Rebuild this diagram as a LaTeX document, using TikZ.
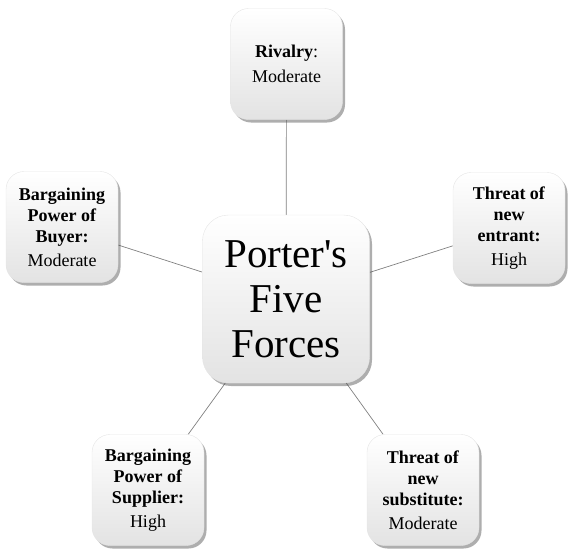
\documentclass[tikz,border=0pt]{standalone}
\usepackage{fontspec}
\setmainfont{LiberationSerif}[Extension=.ttf,UprightFont=*-Regular,BoldFont=*-Bold,ItalicFont=*-Italic,BoldItalicFont=*-BoldItalic]
\usetikzlibrary{shadows,backgrounds}

\begin{document}
\begin{tikzpicture}[x=1pt,y=-1pt]
\tikzset{forcebox/.style={rectangle,rounded corners=18pt,minimum width=112pt,minimum height=111pt,inner sep=2pt,align=center,draw=black!10,top color=white,middle color=white,bottom color=black!11,drop shadow={shadow xshift=2.5pt,shadow yshift=-3pt,fill=black!70,opacity=0.45},font=\fontsize{18}{21}\selectfont}}
\tikzset{link/.style={draw=black!50,line width=0.7pt}}
\useasboundingbox (0,0) rectangle (572,552);
\node (c) at (286,299) [forcebox,rounded corners=26pt,minimum width=167pt,minimum height=168pt,font=\fontsize{41}{45}\selectfont] {Porter\textquotesingle s\\Five\\Forces};
\node (r) at (286.5,64) [forcebox] {\textbf{Rivalry}:\\[4pt]Moderate};
\node (b) at (62,227) [forcebox] {\textbf{Bargaining}\\\textbf{Power of}\\\textbf{Buyer:}\\[3pt]Moderate};
\node (e) at (509,228) [forcebox] {\textbf{Threat of}\\\textbf{new}\\\textbf{entrant:}\\[3pt]High};
\node (s) at (148,490) [forcebox] {\textbf{Bargaining}\\\textbf{Power of}\\\textbf{Supplier:}\\[3pt]High};
\node (u) at (423,490) [forcebox] {\textbf{Threat of}\\\textbf{new}\\\textbf{substitute:}\\[3pt]Moderate};

\begin{scope}[on background layer]
\path
(c) edge [link] (r)
(c) edge [link] (b)
(c) edge [link] (e)
(c) edge [link] (s)
(c) edge [link] (u);
\end{scope}
\end{tikzpicture}
\end{document}
